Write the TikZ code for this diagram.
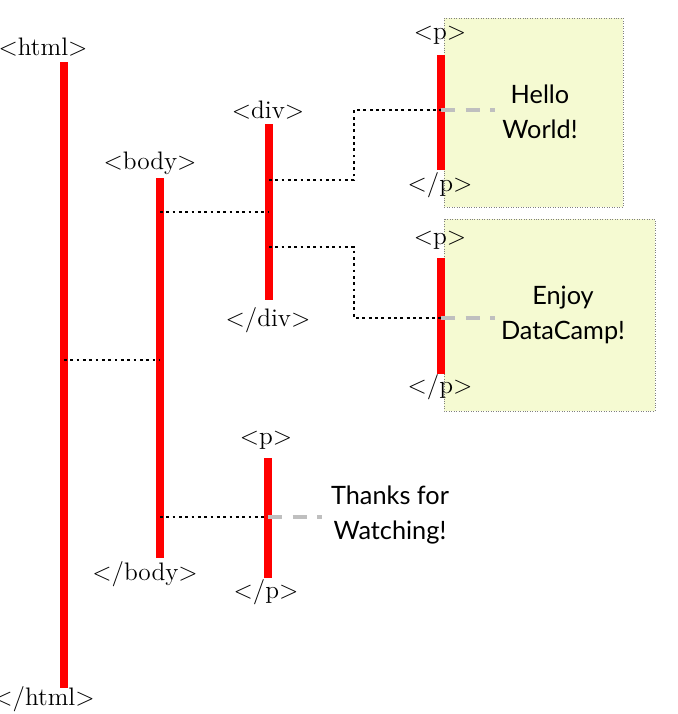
\documentclass[tikz,border=0pt]{standalone}
\usepackage{fontspec}
\newfontfamily\txtfont{Lato}
\usetikzlibrary{positioning}
\definecolor{boxfill}{RGB}{245,250,210}
\tikzset{
  tagbar/.style={line width=5pt, red},
  tag/.style={font=\Large, inner sep=0pt},
  link/.style={dotted, line width=1.6pt, black},
  textlink/.style={dashed, dash pattern=on 8pt off 6pt, line width=2pt, gray!50},
  content/.style={font=\txtfont\Large, align=center, inner sep=0pt},
  contbox/.style={fill=boxfill, draw=gray, densely dotted, thin}
}
\begin{document}
\begin{tikzpicture}[x=0.02cm, y=-0.02cm]
\useasboundingbox (0,0) rectangle (677,714);

% boxes behind the p elements
\draw[contbox] (444,18) rectangle (623,207);
\draw[contbox] (444,219) rectangle (655,411);

% html
\coordinate (htmltop) at (64,62);
\coordinate (htmlbot) at (64,688);
\draw[tagbar] (htmltop) -- (htmlbot);
\node[tag] (htmlopen) at (43,47) {<html>};
\node[tag] (htmlclose) at (44,699) {</html>};

% body
\coordinate (bodytop) at (160,178);
\coordinate (bodybot) at (160,558);
\draw[tagbar] (bodytop) -- (bodybot);
\node[tag] (bodyopen) at (150,163) {<body>};
\node[tag] (bodyclose) at (145,574) {</body>};

% div
\coordinate (divtop) at (269,124);
\coordinate (divbot) at (269,300);
\draw[tagbar] (divtop) -- (divbot);
\node[tag] (divopen) at (268,110) {<div>};
\node[tag] (divclose) at (268,320) {</div>};

% p elements
\coordinate (ponetop) at (441,55);
\coordinate (ponebot) at (441,170);
\draw[tagbar] (ponetop) -- (ponebot);
\node[tag] (poneopen) at (440,35) {<p>};
\node[tag] (poneclose) at (440,185) {</p>};

\coordinate (ptwotop) at (441,258);
\coordinate (ptwobot) at (441,374);
\draw[tagbar] (ptwotop) -- (ptwobot);
\node[tag] (ptwoopen) at (440,240) {<p>};
\node[tag] (ptwoclose) at (440,387) {</p>};

\coordinate (pthreetop) at (268,458);
\coordinate (pthreebot) at (268,578);
\draw[tagbar] (pthreetop) -- (pthreebot);
\node[tag] (pthreeopen) at (266,440) {<p>};
\node[tag] (pthreeclose) at (266,592) {</p>};

% nesting links
\coordinate (htmlmid) at (64,360);
\coordinate (bodymid) at (160,360);
\coordinate (bodydiv) at (160,212);
\coordinate (divbody) at (269,212);
\coordinate (divone) at (269,180);
\coordinate (pone) at (441,110);
\coordinate (divtwo) at (269,247);
\coordinate (ptwo) at (441,318);
\coordinate (bodyp) at (160,517);
\coordinate (pthree) at (268,517);
\draw[link] (htmlmid) -- (bodymid);
\draw[link] (bodydiv) -- (divbody);
\draw[link] (divone) -- (354,180) |- (pone);
\draw[link] (divtwo) -- (354,247) |- (ptwo);
\draw[link] (bodyp) -- (pthree);

% contents
\node[content] (hello) at (540,112) {Hello\\[2pt]World!};
\node[content] (enjoy) at (563,315) {Enjoy\\[2pt]DataCamp!};
\node[content] (thanks) at (390,515) {Thanks for\\[2pt]Watching!};
\coordinate (helloend) at (495,110);
\coordinate (enjoyend) at (495,318);
\coordinate (thanksend) at (322,517);
\draw[textlink] (pone) -- (helloend);
\draw[textlink] (ptwo) -- (enjoyend);
\draw[textlink] (pthree) -- (thanksend);
\end{tikzpicture}
\end{document}
